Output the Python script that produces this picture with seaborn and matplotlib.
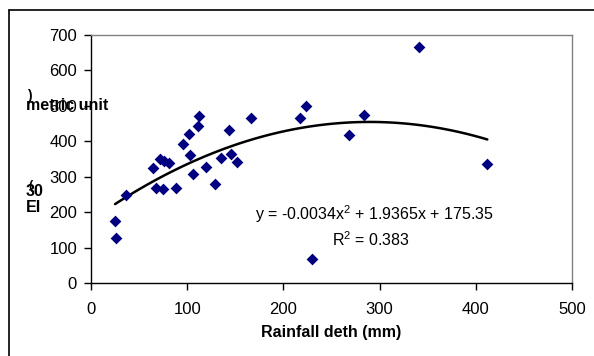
import matplotlib
matplotlib.use("Agg")
import matplotlib.pyplot as plt
import seaborn as sns
import numpy as np
import pandas as pd
from matplotlib.lines import Line2D

rainfall = [25, 26, 36, 64, 72, 76, 81, 68, 75, 88, 96, 102, 103, 106, 111, 112,
            120, 129, 135, 143, 146, 152, 166, 217, 224, 268, 284, 341, 412, 230]
ei30 = [175, 126, 248, 326, 350, 345, 340, 267, 266, 267, 392, 420, 361, 309, 443, 471,
        328, 280, 353, 432, 364, 342, 466, 466, 500, 418, 473, 665, 336, 68]
x_ticks = [0, 100, 200, 300, 400, 500]
y_ticks = [0, 100, 200, 300, 400, 500, 600, 700]
equation = "y = -0.0034x$^2$ + 1.9365x + 175.35"
r2_text = "R$^2$ = 0.383"
x_label = "Rainfall deth (mm)"

df = pd.DataFrame({"rain": rainfall, "ei": ei30})

sns.set_style("white")
plt.rcParams["font.family"] = ["Liberation Sans", "DejaVu Sans"]
plt.rcParams["mathtext.fontset"] = "custom"
plt.rcParams["mathtext.rm"] = "Liberation Sans"
plt.rcParams["mathtext.it"] = "Liberation Sans"
plt.rcParams["text.color"] = "black"
plt.rcParams["xtick.color"] = "black"
plt.rcParams["ytick.color"] = "black"
plt.rcParams["xtick.labelcolor"] = "black"
plt.rcParams["ytick.labelcolor"] = "black"

W, H = 594, 356
fig = plt.figure(figsize=(W / 100, H / 100), dpi=100)
fig.patch.set_facecolor("white")

L, R, T, B = 91, 572, 35, 283
ax = fig.add_axes([L / W, (H - B) / H, (R - L) / W, (B - T) / H])

sns.regplot(data=df, x="rain", y="ei", order=2, ci=None, scatter=False,
            color="black", line_kws={"lw": 1.8}, ax=ax)
sns.scatterplot(data=df, x="rain", y="ei", marker="D", color="#000080",
                s=36, edgecolor="#000080", linewidth=0, ax=ax, zorder=3)

FS = 11.5
ax.set_xlim(0, 500)
ax.set_ylim(0, 700)
ax.set_xticks(x_ticks)
ax.set_yticks(y_ticks)
ax.set_xticklabels([str(v) for v in x_ticks], fontsize=12, color="black")
ax.set_yticklabels([str(v) for v in y_ticks], fontsize=12, color="black")
ax.tick_params(axis="both", direction="out", length=5, width=1, color="black",
               left=True, bottom=True)
ax.tick_params(axis="x", pad=9)
ax.tick_params(axis="y", pad=5)
ax.set_xlabel("")
ax.set_ylabel("")
for s in ["left", "bottom"]:
    ax.spines[s].set_color("black")
    ax.spines[s].set_linewidth(1)
for s in ["top", "right"]:
    ax.spines[s].set_color("#808080")
    ax.spines[s].set_linewidth(1)
    ax.spines[s].set_visible(True)

# equation text
fig.text(375 / W, 1 - 214 / H, equation, ha="center", va="center",
         fontsize=FS, color="black")
fig.text(371 / W, 1 - 240 / H, r2_text, ha="center", va="center",
         fontsize=FS, color="black")

# x label
fig.text(331 / W, 1 - 333 / H, x_label, ha="center", va="center",
         fontsize=FS, fontweight="bold", color="black")

# broken y label fragments (as in the reference)
fig.text(26 / W, 1 - 105 / H, "metric unit", ha="left", va="center",
         fontsize=FS, fontweight="bold", color="black")
fig.text(27 / W, 1 - 96 / H, ")", ha="left", va="center",
         fontsize=10, fontweight="bold", color="black")
fig.text(26 / W, 1 - 191 / H, "30", ha="left", va="center",
         fontsize=FS, fontweight="bold", color="black")
fig.text(28 / W, 1 - 186 / H, "(", ha="left", va="center",
         fontsize=9, fontweight="bold", color="black")
fig.text(26 / W, 1 - 208 / H, "EI", ha="left", va="center",
         fontsize=FS, fontweight="bold", color="black")

# outer chart frame
fig.add_artist(Line2D([9 / W, 1.0], [1 - 10 / H, 1 - 10 / H],
                      transform=fig.transFigure, color="black", lw=1.2))
fig.add_artist(Line2D([9 / W, 9 / W], [1 - 10 / H, 0.0],
                      transform=fig.transFigure, color="black", lw=1.2))

fig.savefig("out.png", dpi=100, facecolor="white")
